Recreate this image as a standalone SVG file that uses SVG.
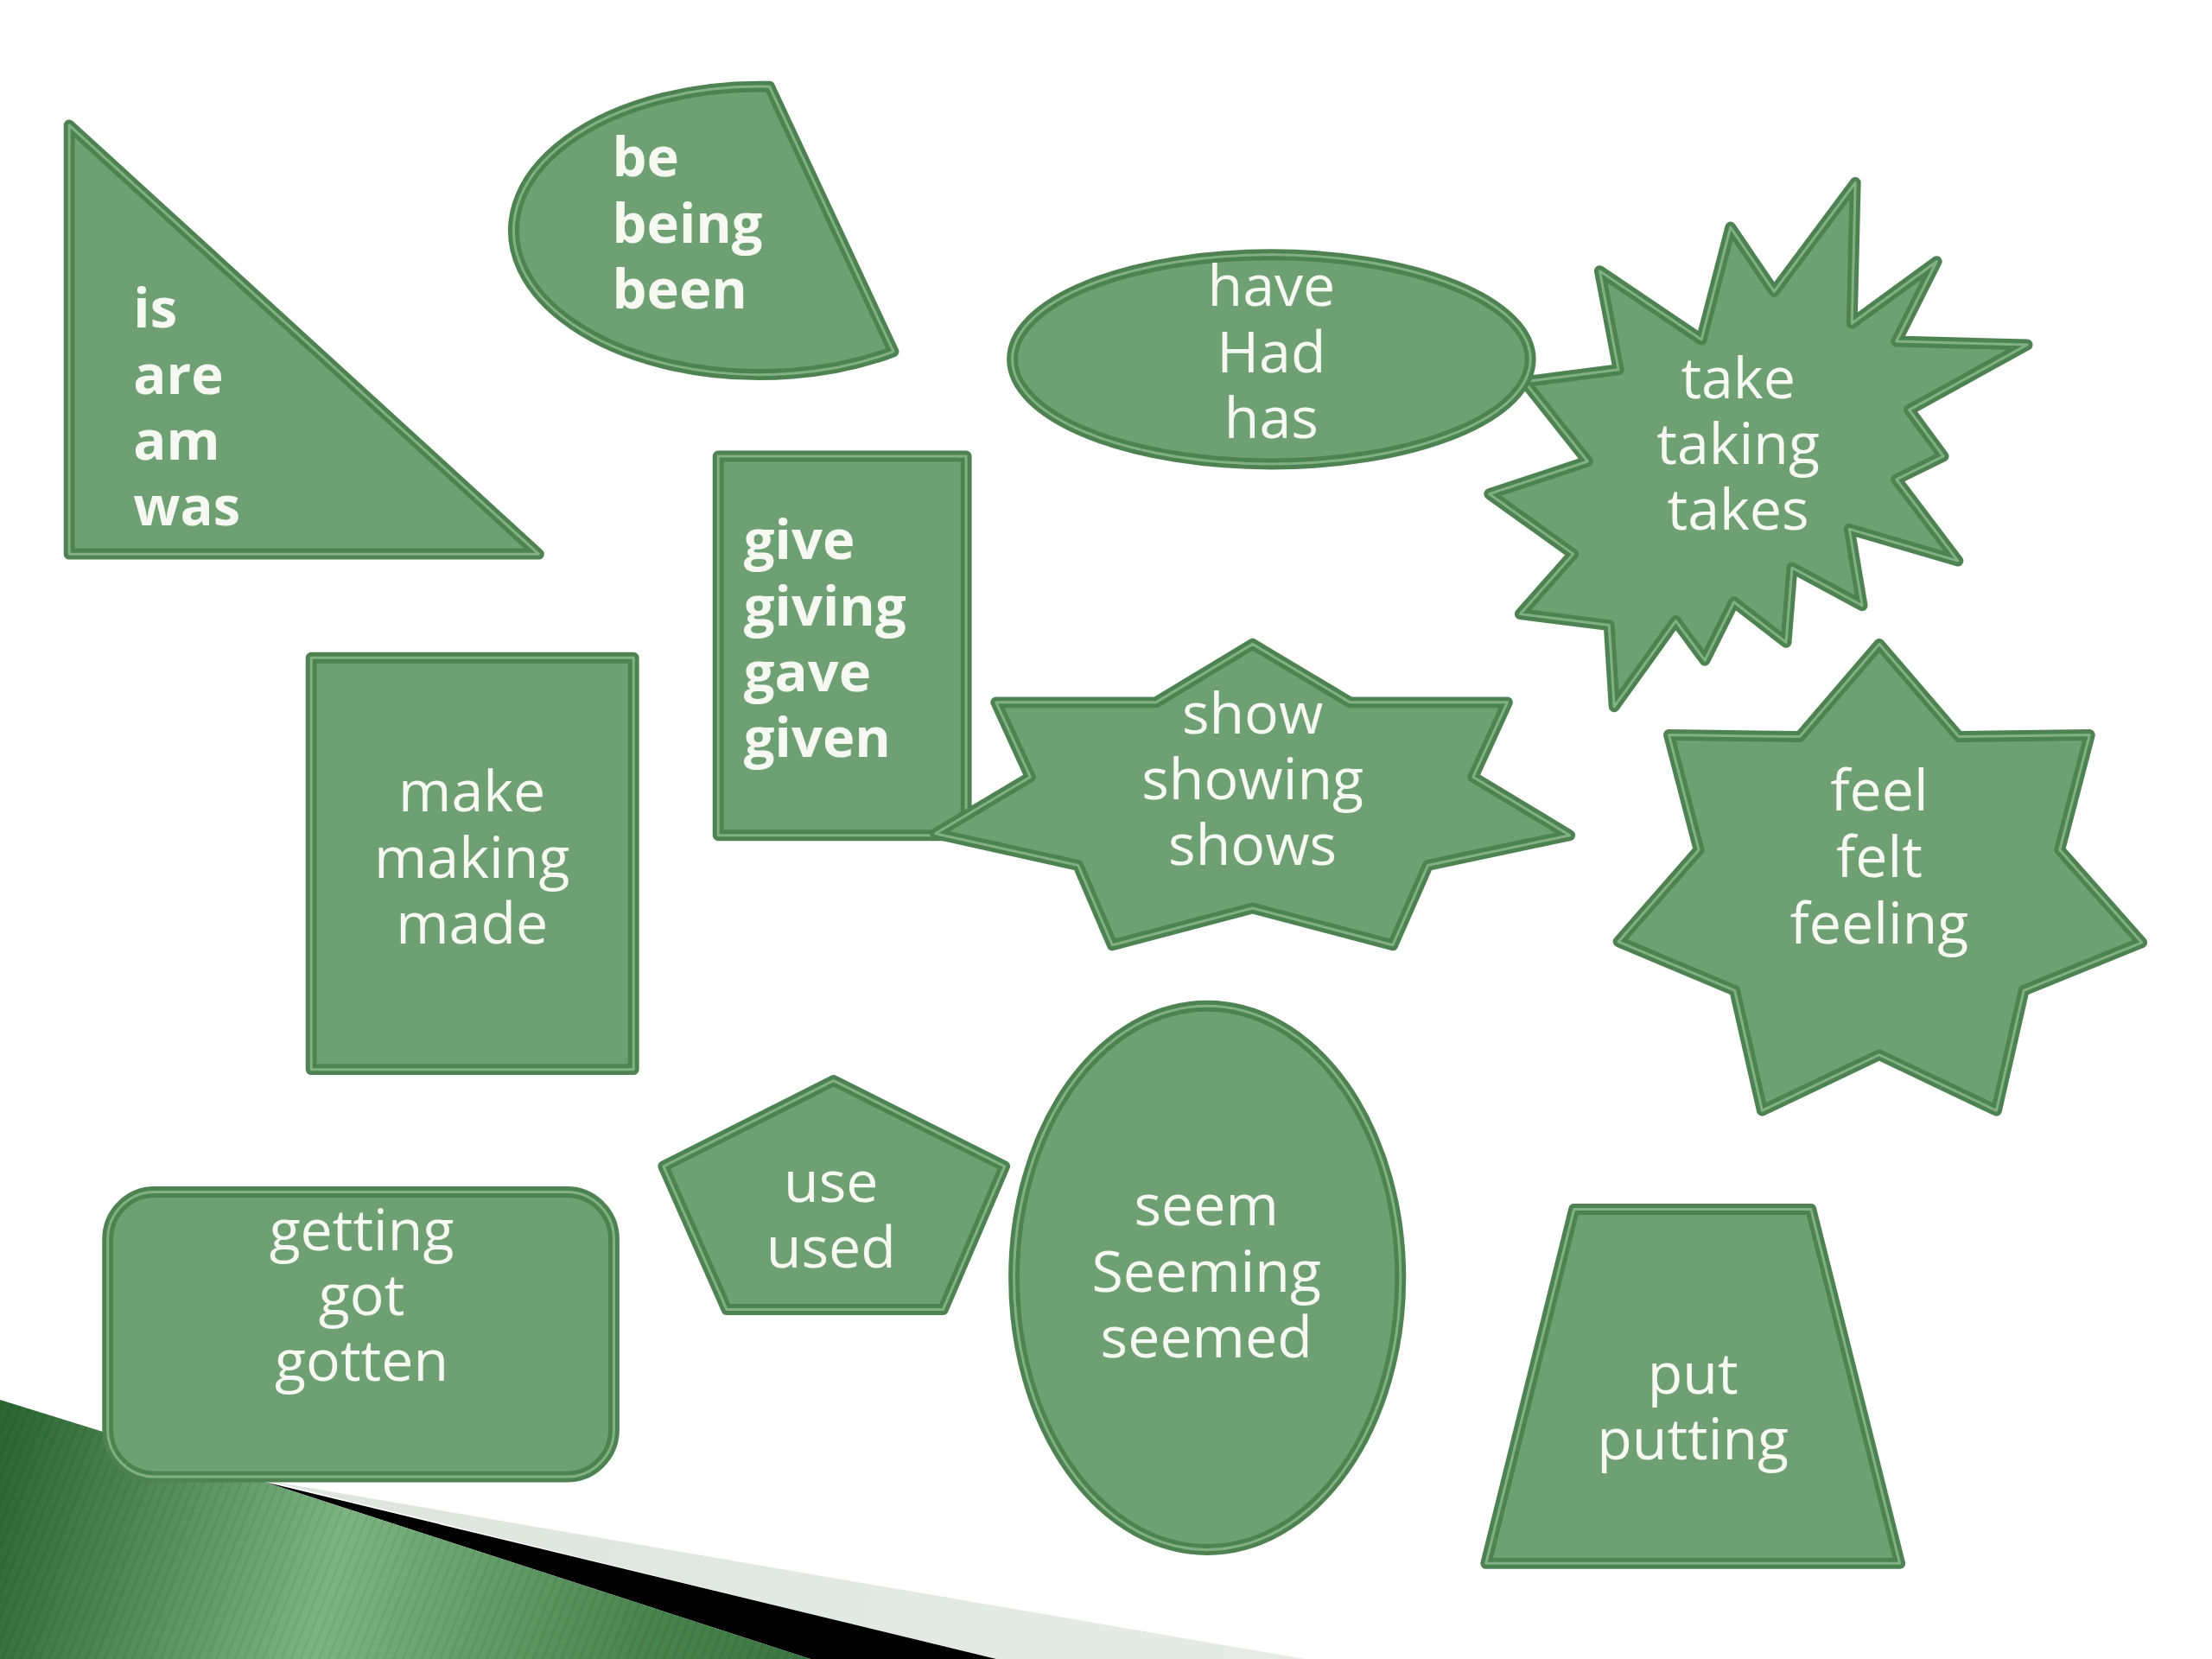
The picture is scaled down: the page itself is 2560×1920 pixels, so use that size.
<svg xmlns="http://www.w3.org/2000/svg" xmlns:xlink="http://www.w3.org/1999/xlink" width="2560" height="1920" viewBox="0 0 2560 1920">
<style>
.shape{fill:#6fa073;stroke:#4f8253;stroke-width:13;stroke-linejoin:round}
.inner{fill:none;stroke:#82b085;stroke-width:3;stroke-linejoin:round}
.t{font-family:"Open Sans","Noto Sans","DejaVu Sans",sans-serif;font-size:67px;fill:#f5f9f2}
.c{text-anchor:middle}
.b{font-weight:bold;font-size:64px}
</style>
<defs>
<linearGradient id="grn" x1="0" y1="1680" x2="940" y2="1920" gradientUnits="userSpaceOnUse">
<stop offset="0" stop-color="#2c6632"/>
<stop offset="0.42" stop-color="#7db582"/>
<stop offset="0.8" stop-color="#4a844f"/>
<stop offset="1" stop-color="#3a7440"/>
</linearGradient>
<linearGradient id="gry" x1="300" y1="1700" x2="1500" y2="1920" gradientUnits="userSpaceOnUse">
<stop offset="0" stop-color="#dde5dd"/>
<stop offset="1" stop-color="#e6ebe6"/>
</linearGradient>
<pattern id="stripes" width="10" height="10" patternUnits="userSpaceOnUse" patternTransform="rotate(22)">
<rect width="3" height="10" fill="#000" opacity="0.06"/>
</pattern>
<path id="g-tri" d="M81 146 L81 646 L630 646 Z"/>
<path id="g-chord" d="M900 101 A288 168 0 1 0 1045 410 Z"/>
<ellipse id="g-have" cx="1487" cy="419" rx="303" ry="122"/>
<path id="g-take" d="M1871 316 L1990 396 L2024 265 L2075 340 L2170 213 L2166 377 L2265 305 L2218 398 L2371 402 L2233 478 L2273 532 L2218 559 L2290 654 L2163 617 L2178 706 L2096 662 L2089 749 L2028 702 L1994 770 L1960 724 L1888 824 L1882 729 L1778 716 L1840 646 L1742 576 L1857 538 L1783 445 L1893 431 Z"/>
<rect id="g-give" x="840" y="532" width="290" height="442"/>
<path id="g-show" d="M1465 751 L1579 819 L1763 819 L1723 906 L1836 974 L1670 1009 L1629 1102 L1465 1059 L1301 1102 L1261 1009 L1094 972 L1205 906 L1165 819 L1352 819 Z"/>
<rect id="g-make" x="364" y="767" width="377" height="480"/>
<path id="g-feel" d="M2198 751 L2291 859 L2444 857 L2409 991 L2505 1099 L2367 1155 L2335 1295 L2198 1230 L2061 1295 L2029 1155 L1893 1098 L1987 991 L1952 857 L2105 859 Z"/>
<path id="g-use" d="M975 1260 L1175 1360 L1103 1527 L850 1527 L776 1360 Z"/>
<ellipse id="g-seem" cx="1412" cy="1490" rx="226" ry="317"/>
<path id="g-put" d="M1841 1410 L2118 1410 L2222 1823 L1738 1823 Z"/>
<rect id="g-get" x="126" y="1390" width="592" height="332" rx="55" ry="55"/>
</defs>
<rect width="2560" height="1920" fill="#ffffff"/>
<g id="background">
<polygon points="306,1713 1510,1920 1153,1920" fill="url(#gry)"/>
<polygon points="306,1715 1153,1920 938,1920" fill="#000000"/>
<polygon points="0,1620 306,1715 938,1920 0,1920" fill="url(#grn)"/>
<polygon points="0,1620 306,1715 938,1920 0,1920" fill="url(#stripes)"/>
</g>
<g id="connectors"></g>
<g id="nodes" transform="scale(0.9895 0.9925)">
<g id="node-is">
<use xlink:href="#g-tri" class="shape"/><use xlink:href="#g-tri" class="inner"/>
<text class="t b"><tspan x="156" y="382">is</tspan><tspan x="156" y="459">are</tspan><tspan x="156" y="536">am</tspan><tspan x="156" y="613">was</tspan></text>
</g>
<g id="node-be">
<use xlink:href="#g-chord" class="shape"/><use xlink:href="#g-chord" class="inner"/>
<text class="t b"><tspan x="716" y="206">be</tspan><tspan x="716" y="283">being</tspan><tspan x="716" y="360">been</tspan></text>
</g>
<g id="node-take">
<use xlink:href="#g-take" class="shape"/><use xlink:href="#g-take" class="inner"/>
<text class="t c"><tspan x="2033" y="464">take</tspan><tspan x="2033" y="541">taking</tspan><tspan x="2033" y="618">takes</tspan></text>
</g>
<g id="node-have">
<use xlink:href="#g-have" class="shape"/><use xlink:href="#g-have" class="inner"/>
<text class="t c"><tspan x="1487" y="357">have</tspan><tspan x="1487" y="434">Had</tspan><tspan x="1487" y="511">has</tspan></text>
</g>
<g id="node-give">
<use xlink:href="#g-give" class="shape"/><use xlink:href="#g-give" class="inner"/>
<text class="t b"><tspan x="870" y="652">give</tspan><tspan x="870" y="729">giving</tspan><tspan x="870" y="806">gave</tspan><tspan x="870" y="883">given</tspan></text>
</g>
<g id="node-show">
<use xlink:href="#g-show" class="shape"/><use xlink:href="#g-show" class="inner"/>
<text class="t c"><tspan x="1465" y="855">show</tspan><tspan x="1465" y="932">showing</tspan><tspan x="1465" y="1009">shows</tspan></text>
</g>
<g id="node-make">
<use xlink:href="#g-make" class="shape"/><use xlink:href="#g-make" class="inner"/>
<text class="t c"><tspan x="552" y="946">make</tspan><tspan x="552" y="1024">making</tspan><tspan x="552" y="1100">made</tspan></text>
</g>
<g id="node-feel">
<use xlink:href="#g-feel" class="shape"/><use xlink:href="#g-feel" class="inner"/>
<text class="t c"><tspan x="2198" y="945">feel</tspan><tspan x="2198" y="1023">felt</tspan><tspan x="2198" y="1100">feeling</tspan></text>
</g>
<g id="node-use">
<use xlink:href="#g-use" class="shape"/><use xlink:href="#g-use" class="inner"/>
<text class="t c"><tspan x="972" y="1402">use</tspan><tspan x="972" y="1478">used</tspan></text>
</g>
<g id="node-seem">
<use xlink:href="#g-seem" class="shape"/><use xlink:href="#g-seem" class="inner"/>
<text class="t c"><tspan x="1411" y="1429">seem</tspan><tspan x="1411" y="1506">Seeming</tspan><tspan x="1411" y="1583">seemed</tspan></text>
</g>
<g id="node-put">
<use xlink:href="#g-put" class="shape"/><use xlink:href="#g-put" class="inner"/>
<text class="t c"><tspan x="1980" y="1625">put</tspan><tspan x="1980" y="1702">putting</tspan></text>
</g>
<g id="node-get">
<use xlink:href="#g-get" class="shape"/><use xlink:href="#g-get" class="inner"/>
<text class="t c"><tspan x="423" y="1458">getting</tspan><tspan x="423" y="1534">got</tspan><tspan x="423" y="1610">gotten</tspan></text>
</g>
</g>
</svg>
